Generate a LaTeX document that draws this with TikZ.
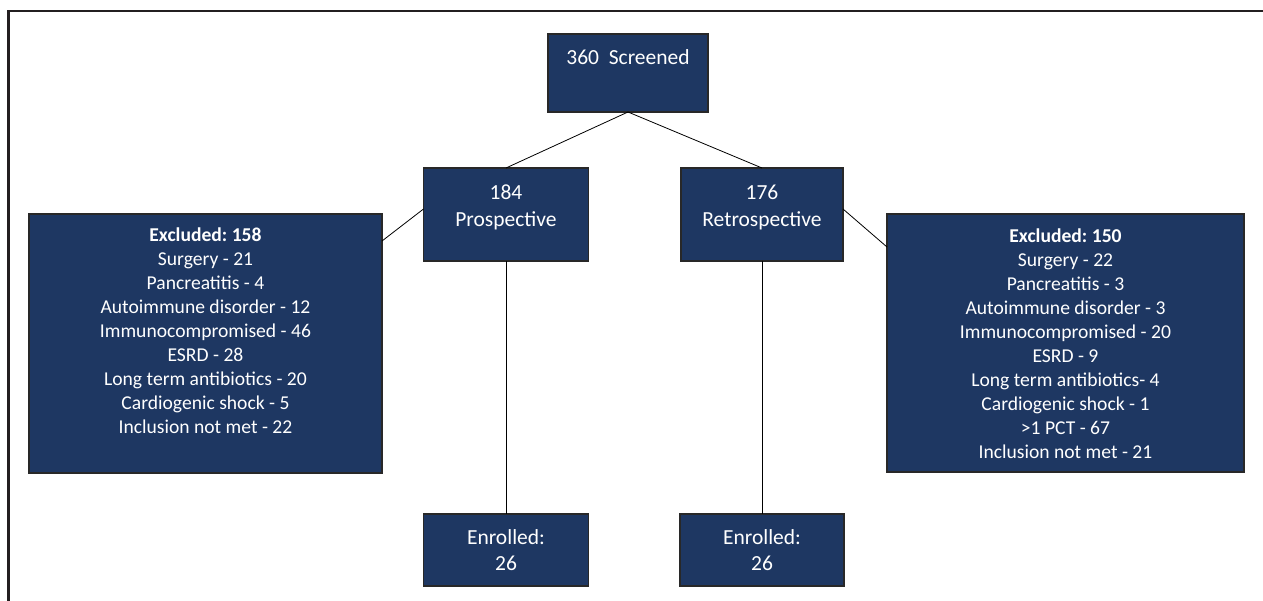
\documentclass[tikz,border=0pt]{standalone}
\usepackage{fontspec}
\setmainfont{Carlito}
\frenchspacing
\definecolor{navy}{RGB}{30,55,98}
\definecolor{edge}{RGB}{40,40,40}
\definecolor{framec}{RGB}{35,31,32}
\tikzset{
  boxnode/.style={draw=edge, line width=1.1pt, fill=navy, inner sep=0pt, outer sep=0pt, rectangle},
  bigtxt/.style={text=white, align=center, inner sep=0pt, anchor=base, font=\fontsize{21.5}{26.5}\selectfont\frenchspacing},
  smalltxt/.style={text=white, align=center, inner sep=0pt, anchor=base, font=\fontsize{19.6}{24}\selectfont\frenchspacing},
  conn/.style={draw=black, line width=0.8pt}
}
\begin{document}
\begin{tikzpicture}[x=1pt, y=-1pt]
\useasboundingbox (0,0) rectangle (1263,601);
% frame
\draw[framec, line width=2.2pt] (8.5,601) -- (8.5,11) -- (1263,11);

% boxes
\node[boxnode, minimum width=160pt, minimum height=78pt] (scr) at (628,73) {};
\node[boxnode, minimum width=165pt, minimum height=93pt] (pro) at (506,214.5) {};
\node[boxnode, minimum width=162pt, minimum height=93pt] (ret) at (762,214.5) {};
\node[boxnode, minimum width=353pt, minimum height=259pt] (exl) at (205.5,343.5) {};
\node[boxnode, minimum width=357pt, minimum height=258pt] (exr) at (1065.5,343) {};
\node[boxnode, minimum width=165pt, minimum height=72pt] (enl) at (506,550) {};
\node[boxnode, minimum width=164pt, minimum height=72pt] (enr) at (762,550) {};

% texts (anchor base = baseline of last line)
\node[bigtxt] (scrt) at (628,65) {360\ \ Screened};
\node[bigtxt] (prot) at (506,226.5) {184\\Prospective};
\node[bigtxt] (rett) at (762,226.5) {176\\Retrospective};
\node[bigtxt] (enlt) at (506,570.5) {Enrolled:\\26};
\node[bigtxt] (enrt) at (762,570.5) {Enrolled:\\26};
\node[smalltxt] (exlt) at (205.5,433.5) {\textbf{Excluded: 158}\\Surgery - 21\\Pancreatitis - 4\\Autoimmune disorder - 12\\Immunocompromised - 46\\ESRD - 28\\Long term antibiotics - 20\\Cardiogenic shock - 5\\Inclusion not met - 22};
\node[smalltxt] (exrt) at (1065.5,458) {\textbf{Excluded: 150}\\Surgery - 22\\Pancreatitis - 3\\Autoimmune disorder - 3\\Immunocompromised - 20\\ESRD - 9\\Long term antibiotics- 4\\Cardiogenic shock - 1\\>1 PCT - 67\\Inclusion not met - 21};

% connectors
\draw[conn] (scr.south) -- (pro.north);
\draw[conn] (scr.south) -- (ret.north);
\draw[conn] (pro.south) -- (enl.north);
\draw[conn] (ret.south) -- (enr.north);
\draw[conn] ([yshift=5.5pt]pro.west) -- ([yshift=-27pt]exl.north east);
\draw[conn] ([yshift=5.5pt]ret.east) -- ([yshift=-33pt]exr.north west);
\end{tikzpicture}
\end{document}
